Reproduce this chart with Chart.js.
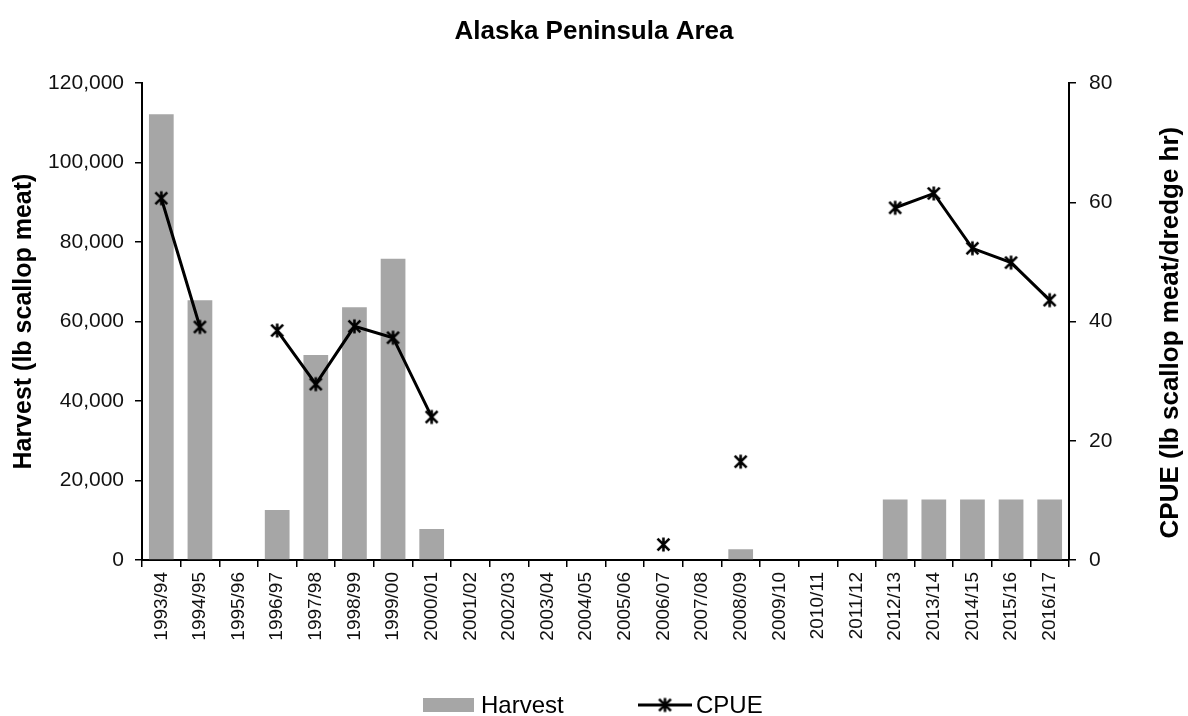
<!DOCTYPE html>
<html>
<head>
<meta charset="utf-8">
<title>Alaska Peninsula Area</title>
<script src="https://cdn.jsdelivr.net/npm/chart.js@4.4.1/dist/chart.umd.min.js"></script>
<style>
  html, body { margin: 0; padding: 0; background: #fff; }
  #wrap { width: 1188px; height: 716px; }
</style>
</head>
<body>
<div id="wrap"><canvas id="chart" width="1188" height="716"></canvas></div>
<script>
'use strict';

/* ---------- data ---------- */
const seasons = [
  '1993/94', '1994/95', '1995/96', '1996/97', '1997/98', '1998/99',
  '1999/00', '2000/01', '2001/02', '2002/03', '2003/04', '2004/05',
  '2005/06', '2006/07', '2007/08', '2008/09', '2009/10', '2010/11',
  '2011/12', '2012/13', '2013/14', '2014/15', '2015/16', '2016/17'
];

// lb scallop meat
const harvest = [
  112200, 65400, null, 12600, 51600, 63600,
  75800, 7800, null, null, null, null,
  null, null, null, 2700, null, null,
  null, 15200, 15200, 15200, 15200, 15200
];

// lb scallop meat / dredge hr
const cpue = [
  60.7, 39.1, null, 38.5, 29.5, 39.2,
  37.3, 24.0, null, null, null, null,
  null, 2.6, null, 16.5, null, null,
  null, 59.1, 61.5, 52.3, 49.9, 43.6
];

const harvestTicks = [0, 20000, 40000, 60000, 80000, 100000, 120000];
const cpueTicks = [0, 20, 40, 60, 80];

/* ---------- styling ---------- */
const FONT = "'Liberation Sans', Arial, sans-serif";
const BAR_GREY = '#a6a6a6';

Chart.defaults.font.family = FONT;
Chart.defaults.color = '#000';

// asterisk-like marker: an x with a vertical stroke
function makeMarker(size, lw) {
  const c = document.createElement('canvas');
  c.width = size; c.height = size;
  const g = c.getContext('2d');
  const m = size / 2, r = size / 2 - 1.5;
  g.strokeStyle = '#000';
  g.lineWidth = lw;
  g.lineCap = 'butt';
  g.beginPath();
  g.moveTo(m - r * 0.85, m - r * 0.85); g.lineTo(m + r * 0.85, m + r * 0.85);
  g.moveTo(m + r * 0.85, m - r * 0.85); g.lineTo(m - r * 0.85, m + r * 0.85);
  g.moveTo(m, m - r); g.lineTo(m, m + r);
  g.stroke();
  return c;
}
const marker = makeMarker(17, 2.6);

/* ---------- plugins: right axis title + bottom legend ---------- */
const extras = {
  id: 'extras',
  afterDraw(chart) {
    const ctx = chart.ctx;
    const area = chart.chartArea;
    const y1 = chart.scales.y1;

    // right axis title reads bottom-to-top
    ctx.save();
    ctx.translate(y1.right - 17, (area.top + area.bottom) / 2 + 11);
    ctx.rotate(-Math.PI / 2);
    ctx.font = 'bold 26px ' + FONT;
    ctx.fillStyle = '#000';
    ctx.textAlign = 'center';
    ctx.textBaseline = 'middle';
    ctx.fillText('CPUE (lb scallop meat/dredge hr)', 0, 0);
    ctx.restore();

    // legend
    const cy = 705;
    ctx.save();
    ctx.font = '24px ' + FONT;
    ctx.textBaseline = 'middle';
    ctx.textAlign = 'left';
    ctx.fillStyle = BAR_GREY;
    ctx.fillRect(423, cy - 7, 51, 14);
    ctx.fillStyle = '#000';
    ctx.fillText('Harvest', 481, cy + 1);

    ctx.strokeStyle = '#000';
    ctx.lineWidth = 3;
    ctx.beginPath();
    ctx.moveTo(638, cy); ctx.lineTo(692, cy);
    ctx.stroke();
    ctx.drawImage(marker, 665 - marker.width / 2, cy - marker.height / 2);
    ctx.fillText('CPUE', 696, cy + 1);
    ctx.restore();
  }
};

/* ---------- chart ---------- */
new Chart(document.getElementById('chart'), {
  type: 'bar',
  data: {
    labels: seasons,
    datasets: [
      {
        type: 'line',
        label: 'CPUE',
        data: cpue,
        yAxisID: 'y1',
        borderColor: '#000',
        borderWidth: 3,
        pointStyle: marker,
        pointRadius: 7,
        spanGaps: false,
        tension: 0,
        order: 1
      },
      {
        label: 'Harvest',
        data: harvest,
        yAxisID: 'y',
        backgroundColor: BAR_GREY,
        borderWidth: 0,
        barPercentage: 0.64,
        categoryPercentage: 1,
        order: 2
      }
    ]
  },
  options: {
    responsive: false,
    animation: false,
    layout: { padding: { top: 16, bottom: 51, left: 0, right: 0 } },
    plugins: {
      legend: { display: false },
      tooltip: { enabled: false },
      title: {
        display: true,
        text: 'Alaska Peninsula Area',
        color: '#000',
        font: { size: 26, weight: 'bold' },
        padding: { top: 0, bottom: 36 }
      }
    },
    scales: {
      x: {
        grid: {
          display: true, drawOnChartArea: false, drawTicks: true,
          tickLength: 7, color: '#000', lineWidth: 1.5
        },
        border: { color: '#000', width: 2 },
        ticks: {
          autoSkip: false, minRotation: 90, maxRotation: 90,
          padding: 5, color: '#111', font: { size: 19 }
        },
        afterFit: s => { s.height = 105; }
      },
      y: {
        position: 'left',
        min: 0, max: 120000,
        afterBuildTicks: s => { s.ticks = harvestTicks.map(v => ({ value: v })); },
        grid: {
          display: true, drawOnChartArea: false, drawTicks: true,
          tickLength: 7, color: '#000', lineWidth: 1.5
        },
        border: { color: '#000', width: 2 },
        ticks: {
          padding: 11, color: '#111', font: { size: 21 },
          callback: v => v.toLocaleString('en-US')
        },
        title: {
          display: true,
          text: 'Harvest (lb scallop meat)',
          color: '#000',
          font: { size: 25, weight: 'bold' },
          padding: { top: 9, bottom: 0 }
        },
        afterFit: s => { s.width = 142; }
      },
      y1: {
        position: 'right',
        min: 0, max: 80,
        afterBuildTicks: s => { s.ticks = cpueTicks.map(v => ({ value: v })); },
        grid: {
          display: true, drawOnChartArea: false, drawTicks: true,
          tickLength: 7, color: '#000', lineWidth: 1.5
        },
        border: { color: '#000', width: 2 },
        ticks: { padding: 13, color: '#111', font: { size: 21 } },
        afterFit: s => { s.width = 119; }
      }
    }
  },
  plugins: [extras]
});
</script>
</body>
</html>
